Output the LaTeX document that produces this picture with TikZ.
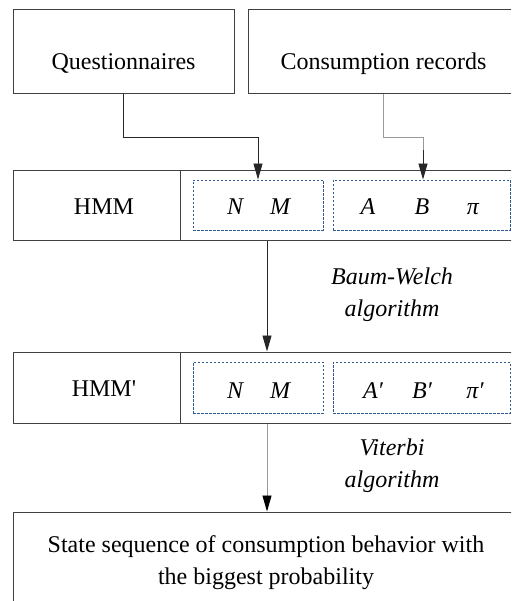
\documentclass[tikz,border=0pt]{standalone}
\usepackage{fontspec}
\setmainfont{Liberation Serif}
\usetikzlibrary{arrows.meta}
\definecolor{dashblue}{RGB}{46,90,140}
\begin{document}
\begin{tikzpicture}[x=1pt,y=-1pt,
  every node/.style={font=\fontsize{24}{32.5}\selectfont, inner sep=0pt},
  box/.style={draw=black!75, line width=1pt, rectangle},
  dbox/.style={draw=dashblue, line width=0.9pt, dash pattern=on 2.5pt off 1.5pt, rectangle},
  txt/.style={anchor=base},
  lbl/.style={anchor=base, font=\fontsize{24}{32.5}\selectfont\itshape},
  tip/.style={-{Triangle[length=16pt,width=9pt]}},
  arr/.style={line width=0.9pt, draw=black!85, tip},
  gline/.style={line width=0.9pt, draw=black!40}
]
\useasboundingbox (0,0) rectangle (511,601);
\clip (0,0) rectangle (511,601);

% top boxes
\node[box, minimum width=221pt, minimum height=84pt] (q) at (123.5,52) {};
\node[txt] (qt) at (123.5,70) {Questionnaires};
\node[box, minimum width=271pt, minimum height=84pt] (c) at (383.5,52) {};
\node[txt] (ct) at (383.5,70) {Consumption records};

% HMM row
\node[box, minimum width=506pt, minimum height=70pt] (row1) at (266,206) {};
\coordinate (div) at (180,0);
\draw[draw=black!75, line width=1pt] (row1.north -| div) -- (row1.south -| div);
\node[txt] (hmm) at (104,215) {HMM};
\node[dbox, minimum width=130pt, minimum height=50pt] (d1) at (258,205) {};
\node[dbox, minimum width=177pt, minimum height=50pt] (d2) at (421.5,205) {};
\node[lbl] (n1) at (235,215) {N};
\node[lbl] (m1) at (280,215) {M};
\node[lbl] (a1) at (368,215) {A};
\node[lbl] (b1) at (422,215) {B};
\node[lbl] (p1) at (473,215) {π};

% HMM' row
\node[box, minimum width=506pt, minimum height=71pt] (row2) at (266,387.5) {};
\draw[draw=black!75, line width=1pt] (row2.north -| div) -- (row2.south -| div);
\node[txt] (hmmp) at (104,396) {HMM\textquotesingle};
\node[dbox, minimum width=130pt, minimum height=51pt] (d3) at (258,387.5) {};
\node[dbox, minimum width=177pt, minimum height=51pt] (d4) at (421.5,387.5) {};
\node[lbl] (n2) at (235,398) {N};
\node[lbl] (m2) at (280,398) {M};
\node[lbl] (a2) at (373,398) {A′};
\node[lbl] (b2) at (422,398) {B′};
\node[lbl] (p2) at (475,398) {π′};

% bottom box
\node[box, minimum width=506pt, minimum height=140pt] (res) at (266,582) {};
\node[txt] (res1) at (266,552.5) {State sequence of consumption behavior with};
\node[txt] (res2) at (266,584.5) {the biggest probability};

% labels
\node[lbl] (bw1) at (392,284) {Baum-Welch};
\node[lbl] (bw2) at (392,316.5) {algorithm};
\node[lbl] (vt1) at (392,455.5) {Viterbi};
\node[lbl] (vt2) at (392,487) {algorithm};

% connectors
\draw[arr] (q.south) -- ++(0,43) -| (d1.north);
\coordinate (bx) at (423,0);
\draw[gline] (c.south) -- ++(0,43) -| (bx |- 0,150);
\draw[arr] (bx |- 0,150) -- (d2.north -| bx);
\coordinate (mid) at (267,0);
\draw[arr] (row1.south -| mid) -- (row2.north -| mid);
\draw[gline] (row2.south -| mid) -- ([yshift=15pt]res.north -| mid);
\draw[arr, draw=black] ([yshift=16pt]res.north -| mid) -- (res.north -| mid);
\end{tikzpicture}
\end{document}
